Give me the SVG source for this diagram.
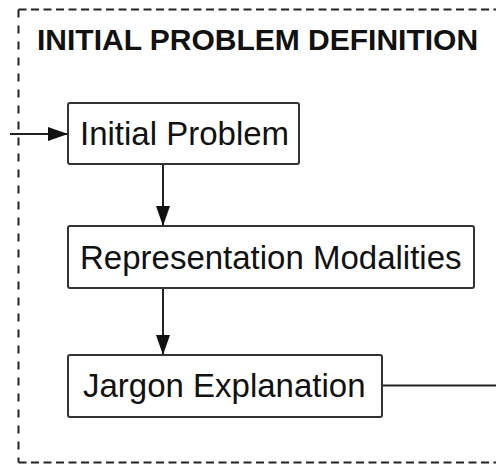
<svg xmlns="http://www.w3.org/2000/svg" width="496" height="465" viewBox="0 0 496 465">
  <style>
    .frame { fill: none; stroke: #222; stroke-width: 2; }
    .frame-h { stroke-dasharray: 8 4.5; }
    .frame-v { stroke-dasharray: 8 8; }
    .box { fill: #fff; stroke: #333; stroke-width: 2; }
    .label { font-family: "Liberation Sans", Arial, sans-serif; font-size: 33px; fill: #111; }
    .title { font-family: "Liberation Sans", Arial, sans-serif; font-size: 30px; font-weight: bold; fill: #111; }
    .edge { fill: none; stroke: #222; stroke-width: 2; }
  </style>
  <defs>
    <marker id="arrowBig" viewBox="0 0 20 14" refX="20" refY="7" markerWidth="20" markerHeight="14" orient="auto" markerUnits="userSpaceOnUse">
      <path d="M0,0 L20,7 L0,14 Z" fill="#111"/>
    </marker>
  </defs>

  <!-- dashed group frame -->
  <g id="group-frame">
    <path class="frame frame-h" d="M18.5,9.5 L500,9.5"/>
    <path class="frame frame-v" d="M18.5,9.5 L18.5,462.5"/>
    <path class="frame frame-h" d="M18.5,462.5 L500,462.5"/>
    <text class="title" x="37" y="50">INITIAL PROBLEM DEFINITION</text>
  </g>

  <!-- connectors -->
  <g id="connectors">
    <line class="edge" x1="10" y1="134" x2="68" y2="134" marker-end="url(#arrowBig)"/>
    <line class="edge" x1="163" y1="164" x2="163" y2="226" marker-end="url(#arrowBig)"/>
    <line class="edge" x1="163" y1="288" x2="163" y2="355" marker-end="url(#arrowBig)"/>
    <line class="edge" x1="382" y1="385.5" x2="500" y2="385.5"/>
  </g>

  <!-- nodes -->
  <g id="initial-problem">
    <rect class="box" x="68" y="103" width="231" height="61" rx="2"/>
    <text class="label" x="80" y="145">Initial Problem</text>
  </g>
  <g id="representation-modalities">
    <rect class="box" x="68" y="226" width="406" height="62" rx="2"/>
    <text class="label" x="80" y="269">Representation Modalities</text>
  </g>
  <g id="jargon-explanation">
    <rect class="box" x="68" y="355" width="314" height="62" rx="2"/>
    <text class="label" x="83" y="397">Jargon Explanation</text>
  </g>
</svg>
